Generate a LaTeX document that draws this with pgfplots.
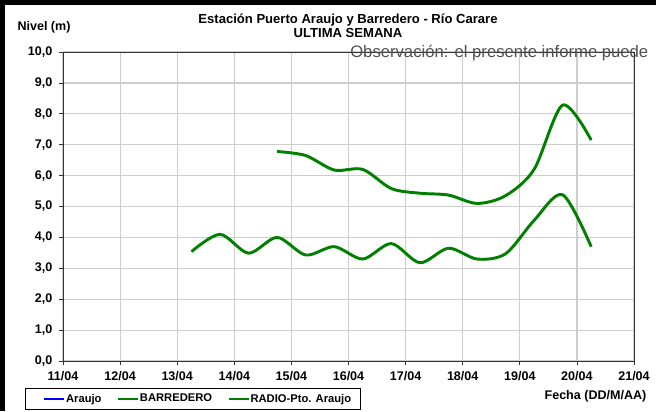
\documentclass[border=0pt]{standalone}
\usepackage{fontspec}
\setmainfont{Liberation Sans}
\usepackage{pgfplots}
\pgfplotsset{compat=1.18}
\definecolor{lgreen}{RGB}{0,128,0}
\definecolor{gridc}{RGB}{205,205,205}
\definecolor{obsgray}{RGB}{80,80,80}
\begin{document}
\begin{tikzpicture}
\begin{axis}[
  at={(47.25pt,37.5pt)}, anchor=south west,
  scale only axis, width=428.25pt, height=231.75pt,
  xmin=11, xmax=21, ymin=0, ymax=10,
  xtick={11,12,...,21},
  xticklabels={11/04,12/04,13/04,14/04,15/04,16/04,17/04,18/04,19/04,20/04,21/04},
  ytick={0,1,...,10},
  yticklabel style={/pgf/number format/fixed, /pgf/number format/fixed zerofill,
    /pgf/number format/precision=1, /pgf/number format/use comma, xshift=-1.5pt},
  /pgf/number format/assume math mode=true,
  tick label style={font=\bfseries\fontsize{9.4}{11}\selectfont},
  xticklabel style={yshift=-1.5pt},
  grid=major,
  major grid style={gridc, line width=0.9pt},
  axis line style={black!80, line width=0.6pt},
  tick style={black!80, line width=0.6pt},
  tick align=outside, major tick length=3pt,
  xtick pos=bottom, ytick pos=left,
  legend columns=3,
  legend style={at={(-0.0665,-0.087)}, anchor=north west, draw=black, line width=0.6pt,
    font=\bfseries\fontsize{8.4}{10}\selectfont, inner xsep=7pt, inner ysep=2.2pt,
    /tikz/every even column/.append style={column sep=5pt},
    /tikz/every odd column/.append style={column sep=0pt},
    nodes={inner xsep=0.3pt}},
  legend image code/.code={\path (0pt,0pt); \draw[#1, line width=1.8pt] (7pt,0pt) -- (22pt,0pt);},
]
\addlegendimage{blue}
\addlegendentry{Araujo}
\addlegendimage{lgreen}
\addlegendentry{BARREDERO}
\addlegendimage{lgreen, mark=*, mark size=1pt, mark options={solid}}
\addlegendentry{RADIO-Pto. Araujo}

\addplot[lgreen, line width=2.2pt, smooth, forget plot] coordinates {
(14.75,6.78) (15.25,6.65) (15.75,6.18) (16.25,6.20) (16.75,5.58) (17.25,5.43)
(17.75,5.37) (18.25,5.10) (18.75,5.35) (19.25,6.20) (19.75,8.28) (20.25,7.15)};

\addplot[lgreen, line width=2.2pt, smooth, forget plot] coordinates {
(13.25,3.54) (13.75,4.10) (14.25,3.49) (14.75,4.00) (15.25,3.43) (15.75,3.70)
(16.25,3.30) (16.75,3.80) (17.25,3.18) (17.75,3.65) (18.25,3.30) (18.75,3.47)
(19.25,4.55) (19.75,5.38) (20.25,3.70)};
\end{axis}

\node[font=\bfseries\fontsize{9.8}{11}\selectfont] at (261pt,293pt) {Estación Puerto Araujo y Barredero - Río Carare};
\node[font=\bfseries\fontsize{9.8}{11}\selectfont] at (261pt,283.5pt) {ULTIMA SEMANA};
\node[font=\bfseries\fontsize{9.4}{11}\selectfont] at (33pt,287.5pt) {Nivel (m)};
\node[font=\bfseries\fontsize{9.4}{11}\selectfont, anchor=east] at (488.25pt,11.25pt) {Fecha (DD/M/AA)};
\node[font=\fontsize{12.5}{15}\selectfont, text=obsgray, anchor=base west, inner sep=0pt] at (262.5pt,265pt) {Observación: el presente informe puede};

\fill[black] (0pt,0pt) rectangle (4pt,308.25pt);
\fill[black] (0pt,304.85pt) rectangle (492pt,308.25pt);

\pgfresetboundingbox
\path[use as bounding box] (0pt,0pt) rectangle (492pt,308.25pt);
\end{tikzpicture}
\end{document}
